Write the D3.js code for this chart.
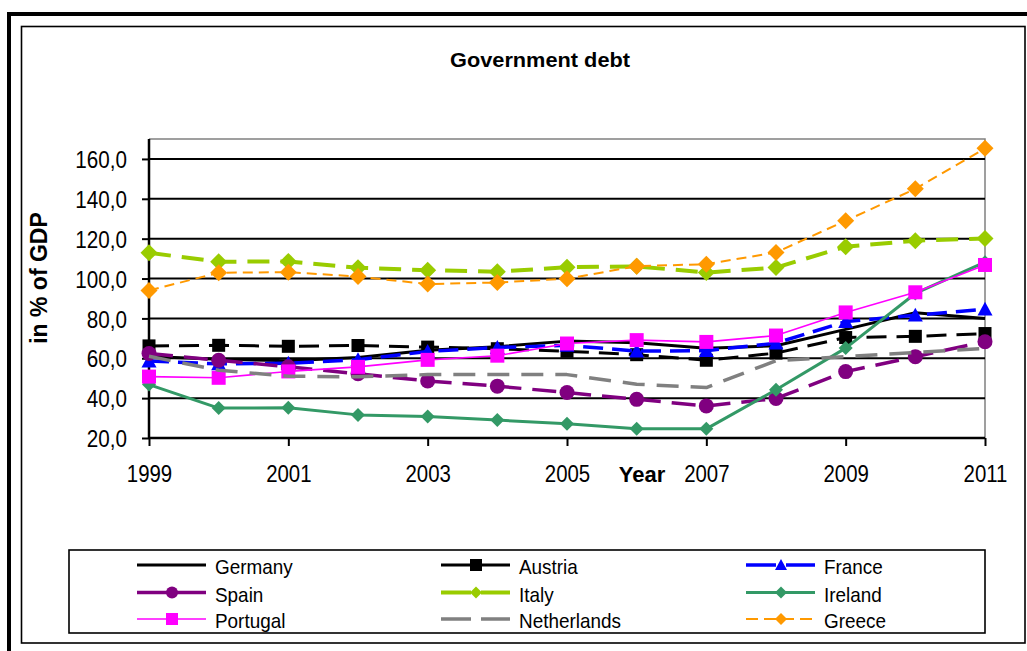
<!DOCTYPE html>
<html>
<head>
<meta charset="utf-8">
<script src="https://cdn.jsdelivr.net/npm/d3@7"></script>
<style>
  html, body { margin: 0; padding: 0; background: #fff; }
  svg { display: block; }
  text { font-family: "Liberation Sans", Arial, sans-serif; }
</style>
</head>
<body>
<svg id="chart" width="1027" height="651"></svg>
<script>
// ---- data ----
const years = [1999, 2000, 2001, 2002, 2003, 2004, 2005, 2006, 2007, 2008, 2009, 2010, 2011];
const tickYears = [1999, 2001, 2003, 2005, 2007, 2009, 2011];
const yTicks = [20, 40, 60, 80, 100, 120, 140, 160];

const germany     = [60.9, 59.5, 58.8, 60.4, 64.0, 65.8, 68.6, 67.8, 65.0, 66.3, 74.5, 82.8, 80.0];
const austria     = [66.2, 66.5, 66.0, 66.4, 65.6, 64.8, 63.5, 61.8, 59.0, 62.6, 70.4, 71.0, 72.4];
const france      = [58.6, 57.2, 57.5, 59.3, 63.4, 65.4, 66.5, 63.6, 63.8, 67.6, 78.4, 81.6, 84.6];
const spain       = [62.4, 59.0, 55.7, 52.2, 48.6, 46.0, 42.8, 39.4, 36.1, 39.8, 53.3, 60.8, 68.3];
const italy       = [112.9, 108.4, 108.6, 105.4, 104.2, 103.4, 105.7, 106.1, 103.0, 105.5, 116.0, 119.0, 120.1];
const ireland     = [46.8, 35.0, 35.2, 31.6, 30.8, 29.0, 27.1, 24.6, 24.6, 44.2, 65.1, 92.5, 108.2];
const portugal    = [50.8, 50.2, 53.4, 55.7, 59.2, 61.3, 67.4, 69.1, 68.2, 71.4, 83.0, 93.1, 106.8];
const netherlands = [61.0, 54.0, 51.0, 50.7, 51.8, 51.8, 51.8, 47.0, 45.3, 58.8, 60.8, 62.9, 65.0];
const greece      = [94.0, 102.9, 103.2, 101.0, 97.2, 98.0, 99.9, 106.2, 107.2, 113.1, 129.0, 145.0, 165.3];

const seriesNames = ["Germany", "Austria", "France", "Spain", "Italy", "Ireland", "Portugal", "Netherlands", "Greece"];
const seriesValues = [germany, austria, france, spain, italy, ireland, portugal, netherlands, greece];

// ---- styles ----
const styles = {
  Germany:     { color: "#000000", width: 3,   dash: null,     marker: null },
  Austria:     { color: "#000000", width: 3,   dash: "20,10",  marker: "square",   msize: 13 },
  France:      { color: "#0000FF", width: 3.5, dash: "20,9",   marker: "triangle", msize: 15 },
  Spain:       { color: "#800080", width: 3.5, dash: "24,11",  marker: "circle",   msize: 15 },
  Italy:       { color: "#99CC00", width: 4,   dash: "22,11",  marker: "diamond",  msize: 17 },
  Ireland:     { color: "#339966", width: 3,   dash: null,     marker: "diamond",  msize: 14 },
  Portugal:    { color: "#FF00FF", width: 1.6, dash: null,     marker: "square",   msize: 14 },
  Netherlands: { color: "#808080", width: 3.5, dash: "22,12",  marker: null },
  Greece:      { color: "#FF9900", width: 2,   dash: "10,6",   marker: "diamond",  msize: 17 }
};

const FONT = "'Liberation Sans', Arial, sans-serif";

// horizontally condense text (the reference uses a narrow face)
function condense(sel, factor) {
  sel.each(function () {
    const w = this.getComputedTextLength();
    d3.select(this).attr("textLength", w * factor).attr("lengthAdjust", "spacingAndGlyphs");
  });
}

const svg = d3.select("#chart");

// frames
svg.append("rect").attr("x", 9).attr("y", 14).attr("width", 1030).attr("height", 650)
  .attr("fill", "none").attr("stroke", "#000").attr("stroke-width", 4);
svg.append("rect").attr("x", 21.5).attr("y", 26.5).attr("width", 1003.5).attr("height", 616.5)
  .attr("fill", "#fff").attr("stroke", "#000").attr("stroke-width", 1.6);

// title
svg.append("text").attr("x", 540).attr("y", 67).attr("text-anchor", "middle")
  .attr("font-size", 21).attr("font-weight", "bold")
  .attr("textLength", 180).attr("lengthAdjust", "spacingAndGlyphs").text("Government debt");

// scales
const x = d3.scaleLinear().domain([1999, 2011]).range([149, 985]);
const y = d3.scaleLinear().domain([20, 170]).range([438, 139]);

// plot border (top/right gray)
svg.append("path")
  .attr("d", `M${x(1999)},${y(170)}H${x(2011)}V${y(20)}`)
  .attr("fill", "none").attr("stroke", "#808080").attr("stroke-width", 1.5);

// gridlines
svg.append("g").selectAll("line").data(yTicks.filter(d => d > 20)).join("line")
  .attr("x1", x(1999)).attr("x2", x(2011))
  .attr("y1", d => y(d)).attr("y2", d => y(d))
  .attr("stroke", "#000").attr("stroke-width", 2);

// y axis
const yAxis = svg.append("g").attr("transform", `translate(${x(1999)},0)`)
  .call(d3.axisLeft(y).tickValues(yTicks).tickSize(7).tickPadding(15)
    .tickFormat(d => d3.format(".1f")(d).replace(".", ",")));
yAxis.select(".domain").attr("stroke", "#000").attr("stroke-width", 2.5)
  .attr("d", `M0,${y(170)}V${y(20)}`);
yAxis.selectAll(".tick line").attr("stroke", "#000").attr("stroke-width", 2);
yAxis.selectAll(".tick text").attr("font-size", 24).attr("fill", "#000")
  .attr("font-family", FONT).attr("dy", "0.36em").call(condense, 0.86);

// x axis
const xAxis = svg.append("g").attr("transform", `translate(0,${y(20)})`)
  .call(d3.axisBottom(x).tickValues(tickYears).tickSize(8).tickPadding(19).tickFormat(d3.format("d")));
xAxis.select(".domain").attr("stroke", "#000").attr("stroke-width", 2.5)
  .attr("d", `M${x(1999)},0H${x(2011)}`);
xAxis.selectAll(".tick line").attr("stroke", "#000").attr("stroke-width", 2);
xAxis.selectAll(".tick text").attr("font-size", 24).attr("fill", "#000")
  .attr("font-family", FONT).call(condense, 0.85);

// axis titles
svg.append("text").attr("x", 642).attr("y", 482).attr("text-anchor", "middle")
  .attr("font-size", 22).attr("font-weight", "bold").text("Year");
svg.append("text").attr("transform", "translate(47,278) rotate(-90)").attr("text-anchor", "middle")
  .attr("font-size", 23).attr("font-weight", "bold").text("in % of GDP");

// marker drawing
function drawMarker(g, type, cx, cy, size, color) {
  const s = size / 2;
  if (type === "square") {
    g.append("rect").attr("x", cx - s).attr("y", cy - s).attr("width", size).attr("height", size).attr("fill", color);
  } else if (type === "circle") {
    g.append("circle").attr("cx", cx).attr("cy", cy).attr("r", s).attr("fill", color);
  } else if (type === "triangle") {
    g.append("path").attr("d", `M${cx},${cy - s}L${cx + s},${cy + s * 0.85}L${cx - s},${cy + s * 0.85}Z`).attr("fill", color);
  } else if (type === "diamond") {
    g.append("path").attr("d", `M${cx},${cy - s}L${cx + s},${cy}L${cx},${cy + s}L${cx - s},${cy}Z`).attr("fill", color);
  }
}

const line = d3.line().x((d, i) => x(years[i])).y(d => y(d));

const plot = svg.append("g");
seriesNames.forEach((name, k) => {
  const st = styles[name];
  const vals = seriesValues[k];
  const g = plot.append("g");
  g.append("path").datum(vals).attr("d", line)
    .attr("fill", "none").attr("stroke", st.color).attr("stroke-width", st.width)
    .attr("stroke-dasharray", st.dash).attr("stroke-linejoin", "round");
  if (st.marker) {
    vals.forEach((v, i) => drawMarker(g, st.marker, x(years[i]), y(v), st.msize, st.color));
  }
});

// legend
svg.append("rect").attr("x", 69).attr("y", 550).attr("width", 916).attr("height", 83)
  .attr("fill", "#fff").attr("stroke", "#000").attr("stroke-width", 1.6);
const colX = [137, 441, 746];
const rowY = [565, 592.5, 619];
seriesNames.forEach((name, k) => {
  const st = styles[name];
  const cx = colX[k % 3], cy = rowY[Math.floor(k / 3)];
  const g = svg.append("g");
  g.append("line").attr("x1", cx).attr("x2", cx + 69).attr("y1", cy).attr("y2", cy)
    .attr("stroke", st.color).attr("stroke-width", st.width)
    .attr("stroke-dasharray", st.dash ? (name === "Greece" ? "12,6" : "30,10") : null);
  if (st.marker) drawMarker(g, st.marker, cx + 35, cy, Math.min(st.msize, 12), st.color);
  g.append("text").attr("x", cx + 78).attr("y", cy + 9).attr("font-size", 21)
    .text(name).call(condense, 0.9);
});
</script>
</body>
</html>
